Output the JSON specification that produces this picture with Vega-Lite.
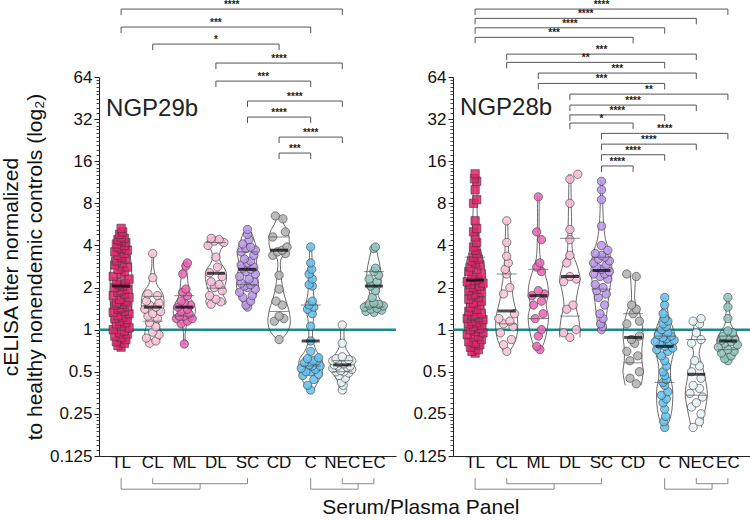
{
"$schema":"https://vega.github.io/schema/vega-lite/v6.json",
"padding":{"left":0,"top":0,"right":0,"bottom":2},
"config":{"font":"Liberation Sans","view":{"stroke":null},"axis":{"grid":false,"domainColor":"#222","tickColor":"#222","labelColor":"#111","labelFont":"Liberation Sans","labelFontSize":17,"titleFont":"Liberation Sans"}},
"title":{"text":"Serum/Plasma Panel","orient":"bottom","anchor":"middle","fontSize":21,"fontWeight":"normal","color":"#111","offset":7,"dx":45},
"spacing":5,
"datasets":{
"minor":[{"v":1}],
"pts":[
{"p":"L","g":"TL","v":0.75,"j":0},{"p":"L","g":"TL","v":0.77,"j":-0.1},{"p":"L","g":"TL","v":0.8,"j":0.1},{"p":"L","g":"TL","v":0.82,"j":-0.15},{"p":"L","g":"TL","v":0.85,"j":0.15},{"p":"L","g":"TL","v":0.88,"j":0},{"p":"L","g":"TL","v":0.9,"j":-0.2},{"p":"L","g":"TL","v":0.93,"j":0.2},{"p":"L","g":"TL","v":0.95,"j":-0.05},{"p":"L","g":"TL","v":0.98,"j":0.1},
{"p":"L","g":"TL","v":1.0,"j":-0.25},{"p":"L","g":"TL","v":1.03,"j":0.25},{"p":"L","g":"TL","v":1.06,"j":0},{"p":"L","g":"TL","v":1.1,"j":-0.15},{"p":"L","g":"TL","v":1.12,"j":0.15},{"p":"L","g":"TL","v":1.15,"j":-0.05},{"p":"L","g":"TL","v":1.18,"j":0.2},{"p":"L","g":"TL","v":1.2,"j":-0.2},{"p":"L","g":"TL","v":1.23,"j":0.05},{"p":"L","g":"TL","v":1.26,"j":-0.1},
{"p":"L","g":"TL","v":1.3,"j":0.25},{"p":"L","g":"TL","v":1.33,"j":-0.25},{"p":"L","g":"TL","v":1.36,"j":0.1},{"p":"L","g":"TL","v":1.4,"j":-0.1},{"p":"L","g":"TL","v":1.43,"j":0},{"p":"L","g":"TL","v":1.46,"j":0.2},{"p":"L","g":"TL","v":1.5,"j":-0.2},{"p":"L","g":"TL","v":1.52,"j":0.05},{"p":"L","g":"TL","v":1.55,"j":-0.15},{"p":"L","g":"TL","v":1.6,"j":0.15},
{"p":"L","g":"TL","v":1.65,"j":-0.05},{"p":"L","g":"TL","v":1.7,"j":0.25},{"p":"L","g":"TL","v":1.75,"j":-0.25},{"p":"L","g":"TL","v":1.8,"j":0.1},{"p":"L","g":"TL","v":1.85,"j":-0.1},{"p":"L","g":"TL","v":1.9,"j":0},{"p":"L","g":"TL","v":1.95,"j":0.2},{"p":"L","g":"TL","v":2.0,"j":-0.2},{"p":"L","g":"TL","v":2.05,"j":0.05},{"p":"L","g":"TL","v":2.1,"j":-0.05},
{"p":"L","g":"TL","v":2.15,"j":0.15},{"p":"L","g":"TL","v":2.2,"j":-0.15},{"p":"L","g":"TL","v":2.3,"j":0.25},{"p":"L","g":"TL","v":2.4,"j":-0.25},{"p":"L","g":"TL","v":2.5,"j":0},{"p":"L","g":"TL","v":2.6,"j":0.1},{"p":"L","g":"TL","v":2.7,"j":-0.1},{"p":"L","g":"TL","v":2.8,"j":0.2},{"p":"L","g":"TL","v":2.9,"j":-0.2},{"p":"L","g":"TL","v":3.0,"j":0.05},
{"p":"L","g":"TL","v":3.1,"j":-0.15},{"p":"L","g":"TL","v":3.2,"j":0.15},{"p":"L","g":"TL","v":3.3,"j":0},{"p":"L","g":"TL","v":3.4,"j":-0.1},{"p":"L","g":"TL","v":3.5,"j":0.1},{"p":"L","g":"TL","v":3.6,"j":-0.2},{"p":"L","g":"TL","v":3.7,"j":0.2},{"p":"L","g":"TL","v":3.8,"j":0},{"p":"L","g":"TL","v":3.9,"j":-0.1},{"p":"L","g":"TL","v":4.0,"j":0.1},
{"p":"L","g":"TL","v":4.1,"j":-0.15},{"p":"L","g":"TL","v":4.2,"j":0.15},{"p":"L","g":"TL","v":4.3,"j":0},{"p":"L","g":"TL","v":4.4,"j":-0.1},{"p":"L","g":"TL","v":4.5,"j":0.1},{"p":"L","g":"TL","v":4.6,"j":0},{"p":"L","g":"TL","v":4.8,"j":-0.05},{"p":"L","g":"TL","v":5.0,"j":0.05},{"p":"L","g":"TL","v":5.3,"j":0},
{"p":"L","g":"CL","v":0.8,"j":-0.1},{"p":"L","g":"CL","v":0.83,"j":0.1},{"p":"L","g":"CL","v":0.87,"j":-0.2},{"p":"L","g":"CL","v":0.92,"j":0.2},{"p":"L","g":"CL","v":0.96,"j":0},{"p":"L","g":"CL","v":1.05,"j":0.1},{"p":"L","g":"CL","v":1.12,"j":-0.1},{"p":"L","g":"CL","v":1.2,"j":0.15},{"p":"L","g":"CL","v":1.25,"j":-0.15},{"p":"L","g":"CL","v":1.3,"j":0},{"p":"L","g":"CL","v":1.35,"j":0.25},{"p":"L","g":"CL","v":1.4,"j":-0.25},{"p":"L","g":"CL","v":1.45,"j":0.1},{"p":"L","g":"CL","v":1.5,"j":-0.1},{"p":"L","g":"CL","v":1.55,"j":0.2},{"p":"L","g":"CL","v":1.6,"j":-0.2},{"p":"L","g":"CL","v":1.75,"j":0.15},{"p":"L","g":"CL","v":1.8,"j":-0.15},{"p":"L","g":"CL","v":2.35,"j":0},{"p":"L","g":"CL","v":3.5,"j":0},
{"p":"L","g":"ML","v":0.79,"j":0},{"p":"L","g":"ML","v":1.1,"j":-0.1},{"p":"L","g":"ML","v":1.15,"j":0.1},{"p":"L","g":"ML","v":1.2,"j":-0.25},{"p":"L","g":"ML","v":1.2,"j":0.25},{"p":"L","g":"ML","v":1.25,"j":0},{"p":"L","g":"ML","v":1.25,"j":-0.15},{"p":"L","g":"ML","v":1.3,"j":0.15},{"p":"L","g":"ML","v":1.35,"j":-0.1},{"p":"L","g":"ML","v":1.4,"j":0.1},{"p":"L","g":"ML","v":1.45,"j":-0.2},{"p":"L","g":"ML","v":1.5,"j":0.2},{"p":"L","g":"ML","v":1.55,"j":0},{"p":"L","g":"ML","v":1.6,"j":-0.1},{"p":"L","g":"ML","v":1.75,"j":0.1},{"p":"L","g":"ML","v":1.85,"j":-0.05},{"p":"L","g":"ML","v":1.95,"j":0.05},{"p":"L","g":"ML","v":2.5,"j":-0.05},{"p":"L","g":"ML","v":2.85,"j":0.05},{"p":"L","g":"ML","v":3.0,"j":0.1},
{"p":"L","g":"DL","v":1.52,"j":-0.15},{"p":"L","g":"DL","v":1.58,"j":0.15},{"p":"L","g":"DL","v":1.65,"j":0},{"p":"L","g":"DL","v":1.75,"j":-0.2},{"p":"L","g":"DL","v":1.9,"j":0.2},{"p":"L","g":"DL","v":2.0,"j":-0.05},{"p":"L","g":"DL","v":2.1,"j":0.1},{"p":"L","g":"DL","v":2.2,"j":-0.15},{"p":"L","g":"DL","v":2.4,"j":0.2},{"p":"L","g":"DL","v":2.55,"j":-0.2},{"p":"L","g":"DL","v":2.8,"j":0.05},{"p":"L","g":"DL","v":3.3,"j":0},{"p":"L","g":"DL","v":4.0,"j":-0.25},{"p":"L","g":"DL","v":4.2,"j":0.25},{"p":"L","g":"DL","v":4.3,"j":-0.05},{"p":"L","g":"DL","v":4.4,"j":0.1},{"p":"L","g":"DL","v":4.5,"j":-0.15},
{"p":"L","g":"SC","v":1.45,"j":0},{"p":"L","g":"SC","v":1.5,"j":-0.05},{"p":"L","g":"SC","v":1.6,"j":0.1},{"p":"L","g":"SC","v":1.7,"j":-0.15},{"p":"L","g":"SC","v":1.75,"j":0.15},{"p":"L","g":"SC","v":1.85,"j":-0.25},{"p":"L","g":"SC","v":1.95,"j":0.25},{"p":"L","g":"SC","v":2.0,"j":0},{"p":"L","g":"SC","v":2.05,"j":-0.1},{"p":"L","g":"SC","v":2.1,"j":0.1},{"p":"L","g":"SC","v":2.15,"j":-0.2},{"p":"L","g":"SC","v":2.2,"j":0.2},{"p":"L","g":"SC","v":2.3,"j":0.05},{"p":"L","g":"SC","v":2.4,"j":-0.25},{"p":"L","g":"SC","v":2.5,"j":0.25},{"p":"L","g":"SC","v":2.6,"j":-0.05},{"p":"L","g":"SC","v":2.7,"j":0.1},{"p":"L","g":"SC","v":2.75,"j":-0.15},{"p":"L","g":"SC","v":2.8,"j":0.2},{"p":"L","g":"SC","v":2.9,"j":-0.2},{"p":"L","g":"SC","v":3.0,"j":0},{"p":"L","g":"SC","v":3.1,"j":0.1},{"p":"L","g":"SC","v":3.2,"j":-0.1},{"p":"L","g":"SC","v":3.4,"j":0.2},{"p":"L","g":"SC","v":3.6,"j":-0.2},{"p":"L","g":"SC","v":3.7,"j":0.25},{"p":"L","g":"SC","v":3.8,"j":-0.05},{"p":"L","g":"SC","v":3.9,"j":0.1},{"p":"L","g":"SC","v":4.1,"j":-0.15},{"p":"L","g":"SC","v":4.4,"j":0.05},{"p":"L","g":"SC","v":4.8,"j":0},{"p":"L","g":"SC","v":5.2,"j":0},
{"p":"L","g":"CD","v":0.85,"j":0},{"p":"L","g":"CD","v":1.15,"j":-0.15},{"p":"L","g":"CD","v":1.2,"j":0.15},{"p":"L","g":"CD","v":1.25,"j":0},{"p":"L","g":"CD","v":1.5,"j":0.1},{"p":"L","g":"CD","v":1.6,"j":-0.1},{"p":"L","g":"CD","v":1.95,"j":0},{"p":"L","g":"CD","v":2.45,"j":0},{"p":"L","g":"CD","v":3.4,"j":-0.2},{"p":"L","g":"CD","v":3.5,"j":0.2},{"p":"L","g":"CD","v":3.6,"j":-0.05},{"p":"L","g":"CD","v":3.7,"j":0.1},{"p":"L","g":"CD","v":3.9,"j":0.25},{"p":"L","g":"CD","v":4.6,"j":-0.2},{"p":"L","g":"CD","v":5.0,"j":0.2},{"p":"L","g":"CD","v":6.2,"j":0.12},{"p":"L","g":"CD","v":6.5,"j":-0.12},
{"p":"L","g":"C","v":0.37,"j":0},{"p":"L","g":"C","v":0.4,"j":-0.1},{"p":"L","g":"C","v":0.44,"j":0.1},{"p":"L","g":"C","v":0.47,"j":-0.25},{"p":"L","g":"C","v":0.48,"j":0.25},{"p":"L","g":"C","v":0.5,"j":0},{"p":"L","g":"C","v":0.5,"j":-0.15},{"p":"L","g":"C","v":0.52,"j":0.15},{"p":"L","g":"C","v":0.53,"j":-0.3},{"p":"L","g":"C","v":0.55,"j":0.3},{"p":"L","g":"C","v":0.55,"j":0.05},{"p":"L","g":"C","v":0.56,"j":-0.05},{"p":"L","g":"C","v":0.58,"j":-0.2},{"p":"L","g":"C","v":0.6,"j":0.2},{"p":"L","g":"C","v":0.6,"j":0.08},{"p":"L","g":"C","v":0.62,"j":-0.1},{"p":"L","g":"C","v":0.63,"j":0.25},{"p":"L","g":"C","v":0.7,"j":0},{"p":"L","g":"C","v":0.83,"j":0},{"p":"L","g":"C","v":1.06,"j":0},{"p":"L","g":"C","v":1.3,"j":0.05},{"p":"L","g":"C","v":1.4,"j":-0.1},{"p":"L","g":"C","v":1.45,"j":0.1},{"p":"L","g":"C","v":1.5,"j":-0.05},{"p":"L","g":"C","v":1.6,"j":0.05},{"p":"L","g":"C","v":2.05,"j":0.05},{"p":"L","g":"C","v":2.1,"j":-0.05},{"p":"L","g":"C","v":2.3,"j":0.05},{"p":"L","g":"C","v":2.5,"j":-0.05},{"p":"L","g":"C","v":2.7,"j":0.03},{"p":"L","g":"C","v":3.0,"j":0},{"p":"L","g":"C","v":3.9,"j":0},
{"p":"L","g":"NEC","v":0.37,"j":0},{"p":"L","g":"NEC","v":0.4,"j":0.03},{"p":"L","g":"NEC","v":0.42,"j":-0.03},{"p":"L","g":"NEC","v":0.45,"j":0.1},{"p":"L","g":"NEC","v":0.47,"j":-0.1},{"p":"L","g":"NEC","v":0.49,"j":0.2},{"p":"L","g":"NEC","v":0.5,"j":-0.2},{"p":"L","g":"NEC","v":0.5,"j":0.05},{"p":"L","g":"NEC","v":0.51,"j":-0.05},{"p":"L","g":"NEC","v":0.52,"j":0.3},{"p":"L","g":"NEC","v":0.53,"j":-0.3},{"p":"L","g":"NEC","v":0.54,"j":0.15},{"p":"L","g":"NEC","v":0.55,"j":-0.15},{"p":"L","g":"NEC","v":0.55,"j":0.25},{"p":"L","g":"NEC","v":0.56,"j":-0.25},{"p":"L","g":"NEC","v":0.57,"j":0.05},{"p":"L","g":"NEC","v":0.58,"j":-0.1},{"p":"L","g":"NEC","v":0.59,"j":0.1},{"p":"L","g":"NEC","v":0.6,"j":0.3},{"p":"L","g":"NEC","v":0.6,"j":-0.3},{"p":"L","g":"NEC","v":0.61,"j":0.2},{"p":"L","g":"NEC","v":0.62,"j":-0.2},{"p":"L","g":"NEC","v":0.64,"j":0},{"p":"L","g":"NEC","v":0.8,"j":0},{"p":"L","g":"NEC","v":1.08,"j":0},
{"p":"L","g":"EC","v":1.33,"j":0},{"p":"L","g":"EC","v":1.35,"j":-0.25},{"p":"L","g":"EC","v":1.38,"j":0.25},{"p":"L","g":"EC","v":1.4,"j":-0.1},{"p":"L","g":"EC","v":1.42,"j":0.1},{"p":"L","g":"EC","v":1.45,"j":-0.3},{"p":"L","g":"EC","v":1.48,"j":0.3},{"p":"L","g":"EC","v":1.5,"j":-0.15},{"p":"L","g":"EC","v":1.52,"j":0.15},{"p":"L","g":"EC","v":1.55,"j":0},{"p":"L","g":"EC","v":1.7,"j":-0.05},{"p":"L","g":"EC","v":1.9,"j":0.05},{"p":"L","g":"EC","v":2.05,"j":-0.1},{"p":"L","g":"EC","v":2.2,"j":0.1},{"p":"L","g":"EC","v":2.3,"j":-0.15},{"p":"L","g":"EC","v":2.45,"j":0.15},{"p":"L","g":"EC","v":2.6,"j":0},{"p":"L","g":"EC","v":2.75,"j":0.05},{"p":"L","g":"EC","v":3.8,"j":0},{"p":"L","g":"EC","v":3.9,"j":0.05},
{"p":"R","g":"TL","v":0.68,"j":0},{"p":"R","g":"TL","v":0.7,"j":-0.1},{"p":"R","g":"TL","v":0.72,"j":0.1},{"p":"R","g":"TL","v":0.75,"j":-0.15},{"p":"R","g":"TL","v":0.78,"j":0.15},{"p":"R","g":"TL","v":0.8,"j":0},{"p":"R","g":"TL","v":0.82,"j":-0.2},{"p":"R","g":"TL","v":0.85,"j":0.2},{"p":"R","g":"TL","v":0.88,"j":-0.05},{"p":"R","g":"TL","v":0.9,"j":0.1},
{"p":"R","g":"TL","v":0.92,"j":-0.25},{"p":"R","g":"TL","v":0.95,"j":0.25},{"p":"R","g":"TL","v":0.97,"j":0},{"p":"R","g":"TL","v":1.0,"j":-0.15},{"p":"R","g":"TL","v":1.02,"j":0.15},{"p":"R","g":"TL","v":1.05,"j":-0.05},{"p":"R","g":"TL","v":1.08,"j":0.2},{"p":"R","g":"TL","v":1.1,"j":-0.2},{"p":"R","g":"TL","v":1.12,"j":0.05},{"p":"R","g":"TL","v":1.15,"j":-0.1},
{"p":"R","g":"TL","v":1.18,"j":0.25},{"p":"R","g":"TL","v":1.2,"j":-0.25},{"p":"R","g":"TL","v":1.22,"j":0.1},{"p":"R","g":"TL","v":1.25,"j":-0.1},{"p":"R","g":"TL","v":1.28,"j":0},{"p":"R","g":"TL","v":1.3,"j":0.2},{"p":"R","g":"TL","v":1.35,"j":-0.2},{"p":"R","g":"TL","v":1.4,"j":0.05},{"p":"R","g":"TL","v":1.45,"j":-0.15},{"p":"R","g":"TL","v":1.5,"j":0.15},
{"p":"R","g":"TL","v":1.55,"j":-0.05},{"p":"R","g":"TL","v":1.6,"j":0.2},{"p":"R","g":"TL","v":1.65,"j":-0.2},{"p":"R","g":"TL","v":1.7,"j":0.1},{"p":"R","g":"TL","v":1.75,"j":-0.1},{"p":"R","g":"TL","v":1.8,"j":0},{"p":"R","g":"TL","v":1.85,"j":0.2},{"p":"R","g":"TL","v":1.9,"j":-0.2},{"p":"R","g":"TL","v":1.95,"j":0.05},{"p":"R","g":"TL","v":2.0,"j":-0.05},
{"p":"R","g":"TL","v":2.05,"j":0.15},{"p":"R","g":"TL","v":2.1,"j":-0.15},{"p":"R","g":"TL","v":2.15,"j":0.25},{"p":"R","g":"TL","v":2.2,"j":-0.25},{"p":"R","g":"TL","v":2.25,"j":0},{"p":"R","g":"TL","v":2.3,"j":0.1},{"p":"R","g":"TL","v":2.4,"j":-0.1},{"p":"R","g":"TL","v":2.5,"j":0.2},{"p":"R","g":"TL","v":2.6,"j":-0.2},{"p":"R","g":"TL","v":2.7,"j":0.05},
{"p":"R","g":"TL","v":2.8,"j":-0.15},{"p":"R","g":"TL","v":2.9,"j":0.15},{"p":"R","g":"TL","v":3.0,"j":0},{"p":"R","g":"TL","v":3.1,"j":-0.1},{"p":"R","g":"TL","v":3.2,"j":0.1},{"p":"R","g":"TL","v":3.3,"j":-0.05},{"p":"R","g":"TL","v":3.5,"j":0.05},{"p":"R","g":"TL","v":3.7,"j":0},{"p":"R","g":"TL","v":3.9,"j":-0.05},{"p":"R","g":"TL","v":4.2,"j":0.05},
{"p":"R","g":"TL","v":4.6,"j":0},{"p":"R","g":"TL","v":5.0,"j":-0.05},{"p":"R","g":"TL","v":5.3,"j":0.05},{"p":"R","g":"TL","v":6.0,"j":0},{"p":"R","g":"TL","v":8.0,"j":-0.05},{"p":"R","g":"TL","v":8.5,"j":0.05},{"p":"R","g":"TL","v":10.0,"j":0},{"p":"R","g":"TL","v":11.5,"j":0.05},{"p":"R","g":"TL","v":12.0,"j":-0.02},{"p":"R","g":"TL","v":13.0,"j":0},
{"p":"R","g":"CL","v":0.7,"j":0},{"p":"R","g":"CL","v":0.78,"j":-0.1},{"p":"R","g":"CL","v":0.85,"j":0.15},{"p":"R","g":"CL","v":0.95,"j":-0.2},{"p":"R","g":"CL","v":1.05,"j":0.2},{"p":"R","g":"CL","v":1.1,"j":-0.1},{"p":"R","g":"CL","v":1.15,"j":0.1},{"p":"R","g":"CL","v":1.2,"j":-0.25},{"p":"R","g":"CL","v":1.3,"j":0.25},{"p":"R","g":"CL","v":1.8,"j":-0.1},{"p":"R","g":"CL","v":2.0,"j":0.1},{"p":"R","g":"CL","v":2.5,"j":0},{"p":"R","g":"CL","v":2.7,"j":-0.05},{"p":"R","g":"CL","v":3.0,"j":0.05},{"p":"R","g":"CL","v":3.35,"j":0},{"p":"R","g":"CL","v":4.2,"j":0},{"p":"R","g":"CL","v":6.0,"j":0},
{"p":"R","g":"ML","v":0.72,"j":0.05},{"p":"R","g":"ML","v":0.76,"j":-0.05},{"p":"R","g":"ML","v":0.9,"j":0},{"p":"R","g":"ML","v":1.0,"j":0.1},{"p":"R","g":"ML","v":1.2,"j":-0.1},{"p":"R","g":"ML","v":1.3,"j":0.15},{"p":"R","g":"ML","v":1.5,"j":-0.15},{"p":"R","g":"ML","v":1.6,"j":0.1},{"p":"R","g":"ML","v":1.75,"j":-0.2},{"p":"R","g":"ML","v":1.8,"j":0.2},{"p":"R","g":"ML","v":1.9,"j":0},{"p":"R","g":"ML","v":2.6,"j":0.1},{"p":"R","g":"ML","v":2.8,"j":-0.05},{"p":"R","g":"ML","v":3.0,"j":0.05},{"p":"R","g":"ML","v":4.4,"j":0.1},{"p":"R","g":"ML","v":5.0,"j":-0.05},{"p":"R","g":"ML","v":8.9,"j":0},
{"p":"R","g":"DL","v":0.88,"j":0},{"p":"R","g":"DL","v":0.95,"j":-0.2},{"p":"R","g":"DL","v":1.0,"j":0.2},{"p":"R","g":"DL","v":1.4,"j":-0.1},{"p":"R","g":"DL","v":1.5,"j":0.1},{"p":"R","g":"DL","v":2.2,"j":-0.2},{"p":"R","g":"DL","v":2.3,"j":0.2},{"p":"R","g":"DL","v":2.4,"j":0},{"p":"R","g":"DL","v":3.0,"j":-0.1},{"p":"R","g":"DL","v":3.4,"j":0},{"p":"R","g":"DL","v":4.4,"j":0},{"p":"R","g":"DL","v":5.2,"j":0},{"p":"R","g":"DL","v":8.0,"j":0},{"p":"R","g":"DL","v":11.9,"j":0},{"p":"R","g":"DL","v":12.9,"j":0.25},
{"p":"R","g":"SC","v":1.0,"j":0},{"p":"R","g":"SC","v":1.05,"j":0.03},{"p":"R","g":"SC","v":1.1,"j":-0.03},{"p":"R","g":"SC","v":1.2,"j":0.05},{"p":"R","g":"SC","v":1.3,"j":-0.05},{"p":"R","g":"SC","v":1.5,"j":0.1},{"p":"R","g":"SC","v":1.7,"j":-0.1},{"p":"R","g":"SC","v":1.8,"j":0.15},{"p":"R","g":"SC","v":1.9,"j":-0.15},{"p":"R","g":"SC","v":2.0,"j":0.05},{"p":"R","g":"SC","v":2.1,"j":-0.2},{"p":"R","g":"SC","v":2.3,"j":0.2},{"p":"R","g":"SC","v":2.4,"j":-0.05},{"p":"R","g":"SC","v":2.5,"j":0.1},{"p":"R","g":"SC","v":2.5,"j":-0.25},{"p":"R","g":"SC","v":2.6,"j":0.25},{"p":"R","g":"SC","v":2.7,"j":0},{"p":"R","g":"SC","v":2.8,"j":-0.15},{"p":"R","g":"SC","v":2.9,"j":0.15},{"p":"R","g":"SC","v":3.0,"j":-0.25},{"p":"R","g":"SC","v":3.1,"j":0.25},{"p":"R","g":"SC","v":3.2,"j":-0.1},{"p":"R","g":"SC","v":3.3,"j":0.1},{"p":"R","g":"SC","v":3.4,"j":0},{"p":"R","g":"SC","v":3.5,"j":-0.2},{"p":"R","g":"SC","v":3.7,"j":0.2},{"p":"R","g":"SC","v":4.0,"j":0},{"p":"R","g":"SC","v":5.5,"j":0},{"p":"R","g":"SC","v":8.5,"j":0},{"p":"R","g":"SC","v":10,"j":0},{"p":"R","g":"SC","v":11.5,"j":0},
{"p":"R","g":"CD","v":0.41,"j":0.1},{"p":"R","g":"CD","v":0.45,"j":-0.1},{"p":"R","g":"CD","v":0.5,"j":0.2},{"p":"R","g":"CD","v":0.6,"j":-0.1},{"p":"R","g":"CD","v":0.65,"j":0.15},{"p":"R","g":"CD","v":0.7,"j":-0.2},{"p":"R","g":"CD","v":0.8,"j":0.05},{"p":"R","g":"CD","v":0.85,"j":-0.05},{"p":"R","g":"CD","v":0.9,"j":0.2},{"p":"R","g":"CD","v":1.1,"j":-0.2},{"p":"R","g":"CD","v":1.15,"j":0.2},{"p":"R","g":"CD","v":1.3,"j":0},{"p":"R","g":"CD","v":1.4,"j":0.1},{"p":"R","g":"CD","v":1.5,"j":-0.05},{"p":"R","g":"CD","v":2.4,"j":0.1},{"p":"R","g":"CD","v":2.5,"j":-0.2},
{"p":"R","g":"C","v":0.2,"j":0},{"p":"R","g":"C","v":0.22,"j":-0.03},{"p":"R","g":"C","v":0.24,"j":0.03},{"p":"R","g":"C","v":0.27,"j":0},{"p":"R","g":"C","v":0.3,"j":-0.05},{"p":"R","g":"C","v":0.32,"j":0.05},{"p":"R","g":"C","v":0.34,"j":-0.1},{"p":"R","g":"C","v":0.36,"j":0.1},{"p":"R","g":"C","v":0.4,"j":0},{"p":"R","g":"C","v":0.42,"j":-0.05},{"p":"R","g":"C","v":0.44,"j":0.05},{"p":"R","g":"C","v":0.47,"j":0},{"p":"R","g":"C","v":0.5,"j":-0.05},{"p":"R","g":"C","v":0.55,"j":0.05},{"p":"R","g":"C","v":0.6,"j":0},{"p":"R","g":"C","v":0.65,"j":-0.1},{"p":"R","g":"C","v":0.7,"j":0.1},{"p":"R","g":"C","v":0.72,"j":-0.25},{"p":"R","g":"C","v":0.74,"j":0.25},{"p":"R","g":"C","v":0.76,"j":0},{"p":"R","g":"C","v":0.78,"j":-0.15},{"p":"R","g":"C","v":0.8,"j":0.15},{"p":"R","g":"C","v":0.82,"j":-0.3},{"p":"R","g":"C","v":0.84,"j":0.3},{"p":"R","g":"C","v":0.86,"j":0.05},{"p":"R","g":"C","v":0.88,"j":-0.05},{"p":"R","g":"C","v":0.9,"j":0.2},{"p":"R","g":"C","v":0.92,"j":-0.2},{"p":"R","g":"C","v":0.95,"j":0.1},{"p":"R","g":"C","v":1.0,"j":-0.1},{"p":"R","g":"C","v":1.05,"j":0.05},{"p":"R","g":"C","v":1.1,"j":-0.05},{"p":"R","g":"C","v":1.15,"j":0.1},{"p":"R","g":"C","v":1.2,"j":0},{"p":"R","g":"C","v":1.3,"j":-0.05},{"p":"R","g":"C","v":1.5,"j":0},{"p":"R","g":"C","v":1.7,"j":0},
{"p":"R","g":"NEC","v":0.2,"j":-0.1},{"p":"R","g":"NEC","v":0.22,"j":0.1},{"p":"R","g":"NEC","v":0.25,"j":0.15},{"p":"R","g":"NEC","v":0.28,"j":-0.15},{"p":"R","g":"NEC","v":0.3,"j":0},{"p":"R","g":"NEC","v":0.33,"j":0.2},{"p":"R","g":"NEC","v":0.35,"j":-0.2},{"p":"R","g":"NEC","v":0.38,"j":0.1},{"p":"R","g":"NEC","v":0.4,"j":-0.1},{"p":"R","g":"NEC","v":0.45,"j":0.15},{"p":"R","g":"NEC","v":0.5,"j":-0.15},{"p":"R","g":"NEC","v":0.55,"j":0.1},{"p":"R","g":"NEC","v":0.6,"j":-0.05},{"p":"R","g":"NEC","v":0.8,"j":-0.15},{"p":"R","g":"NEC","v":0.85,"j":0.15},{"p":"R","g":"NEC","v":0.95,"j":0},{"p":"R","g":"NEC","v":1.1,"j":0.1},{"p":"R","g":"NEC","v":1.15,"j":-0.1},{"p":"R","g":"NEC","v":1.2,"j":0.15},
{"p":"R","g":"EC","v":0.6,"j":0},{"p":"R","g":"EC","v":0.62,"j":-0.1},{"p":"R","g":"EC","v":0.65,"j":0.1},{"p":"R","g":"EC","v":0.68,"j":-0.2},{"p":"R","g":"EC","v":0.7,"j":0.2},{"p":"R","g":"EC","v":0.72,"j":0},{"p":"R","g":"EC","v":0.75,"j":-0.3},{"p":"R","g":"EC","v":0.78,"j":0.3},{"p":"R","g":"EC","v":0.8,"j":-0.1},{"p":"R","g":"EC","v":0.82,"j":0.1},{"p":"R","g":"EC","v":0.84,"j":-0.2},{"p":"R","g":"EC","v":0.86,"j":0.2},{"p":"R","g":"EC","v":0.88,"j":0},{"p":"R","g":"EC","v":0.9,"j":-0.15},{"p":"R","g":"EC","v":0.95,"j":0.15},{"p":"R","g":"EC","v":0.98,"j":0},{"p":"R","g":"EC","v":1.2,"j":0},{"p":"R","g":"EC","v":1.45,"j":0},{"p":"R","g":"EC","v":1.7,"j":0}
],
"vio":[
{"p":"L","g":"TL","v":0.75,"r":0.09,"l":-0.09},{"p":"L","g":"TL","v":0.86,"r":0.16,"l":-0.16},{"p":"L","g":"TL","v":1.0,"r":0.25,"l":-0.25},{"p":"L","g":"TL","v":1.3,"r":0.32,"l":-0.32},{"p":"L","g":"TL","v":1.65,"r":0.35,"l":-0.35},{"p":"L","g":"TL","v":2.1,"r":0.35,"l":-0.35},{"p":"L","g":"TL","v":2.9,"r":0.32,"l":-0.32},{"p":"L","g":"TL","v":3.9,"r":0.25,"l":-0.25},{"p":"L","g":"TL","v":4.8,"r":0.16,"l":-0.16},{"p":"L","g":"TL","v":5.3,"r":0.06,"l":-0.06},
{"p":"L","g":"CL","v":0.78,"r":0.06,"l":-0.06},{"p":"L","g":"CL","v":0.82,"r":0.19,"l":-0.19},{"p":"L","g":"CL","v":0.95,"r":0.25,"l":-0.25},{"p":"L","g":"CL","v":1.18,"r":0.16,"l":-0.16},{"p":"L","g":"CL","v":1.3,"r":0.25,"l":-0.25},{"p":"L","g":"CL","v":1.45,"r":0.35,"l":-0.35},{"p":"L","g":"CL","v":1.8,"r":0.32,"l":-0.32},{"p":"L","g":"CL","v":2.1,"r":0.13,"l":-0.13},{"p":"L","g":"CL","v":2.35,"r":0.09,"l":-0.09},{"p":"L","g":"CL","v":2.8,"r":0.03,"l":-0.03},{"p":"L","g":"CL","v":3.5,"r":0.03,"l":-0.03},
{"p":"L","g":"ML","v":0.78,"r":0.03,"l":-0.03},{"p":"L","g":"ML","v":0.95,"r":0.03,"l":-0.03},{"p":"L","g":"ML","v":1.1,"r":0.09,"l":-0.09},{"p":"L","g":"ML","v":1.2,"r":0.28,"l":-0.28},{"p":"L","g":"ML","v":1.35,"r":0.35,"l":-0.35},{"p":"L","g":"ML","v":1.5,"r":0.32,"l":-0.32},{"p":"L","g":"ML","v":1.7,"r":0.19,"l":-0.19},{"p":"L","g":"ML","v":2.0,"r":0.13,"l":-0.13},{"p":"L","g":"ML","v":2.5,"r":0.09,"l":-0.09},{"p":"L","g":"ML","v":3.0,"r":0.03,"l":-0.03},
{"p":"L","g":"DL","v":1.5,"r":0.28,"l":-0.28},{"p":"L","g":"DL","v":1.6,"r":0.32,"l":-0.32},{"p":"L","g":"DL","v":1.8,"r":0.22,"l":-0.22},{"p":"L","g":"DL","v":1.95,"r":0.25,"l":-0.25},{"p":"L","g":"DL","v":2.2,"r":0.32,"l":-0.32},{"p":"L","g":"DL","v":2.6,"r":0.32,"l":-0.32},{"p":"L","g":"DL","v":3.1,"r":0.13,"l":-0.13},{"p":"L","g":"DL","v":3.6,"r":0.13,"l":-0.13},{"p":"L","g":"DL","v":4.2,"r":0.28,"l":-0.28},{"p":"L","g":"DL","v":4.6,"r":0.19,"l":-0.19},
{"p":"L","g":"SC","v":1.45,"r":0.09,"l":-0.09},{"p":"L","g":"SC","v":1.6,"r":0.19,"l":-0.19},{"p":"L","g":"SC","v":1.8,"r":0.28,"l":-0.28},{"p":"L","g":"SC","v":2.05,"r":0.35,"l":-0.35},{"p":"L","g":"SC","v":2.4,"r":0.32,"l":-0.32},{"p":"L","g":"SC","v":3.0,"r":0.28,"l":-0.28},{"p":"L","g":"SC","v":3.6,"r":0.32,"l":-0.32},{"p":"L","g":"SC","v":4.3,"r":0.22,"l":-0.22},{"p":"L","g":"SC","v":4.9,"r":0.13,"l":-0.13},{"p":"L","g":"SC","v":5.2,"r":0.03,"l":-0.03},
{"p":"L","g":"CD","v":0.85,"r":0.06,"l":-0.06},{"p":"L","g":"CD","v":0.95,"r":0.25,"l":-0.25},{"p":"L","g":"CD","v":1.1,"r":0.35,"l":-0.35},{"p":"L","g":"CD","v":1.35,"r":0.32,"l":-0.32},{"p":"L","g":"CD","v":1.6,"r":0.22,"l":-0.22},{"p":"L","g":"CD","v":1.9,"r":0.13,"l":-0.13},{"p":"L","g":"CD","v":2.5,"r":0.06,"l":-0.06},{"p":"L","g":"CD","v":3.2,"r":0.06,"l":-0.06},{"p":"L","g":"CD","v":3.6,"r":0.25,"l":-0.25},{"p":"L","g":"CD","v":4.2,"r":0.32,"l":-0.32},{"p":"L","g":"CD","v":5.0,"r":0.28,"l":-0.28},{"p":"L","g":"CD","v":5.8,"r":0.13,"l":-0.13},{"p":"L","g":"CD","v":6.5,"r":0.06,"l":-0.06},
{"p":"L","g":"C","v":0.37,"r":0.09,"l":-0.09},{"p":"L","g":"C","v":0.42,"r":0.22,"l":-0.22},{"p":"L","g":"C","v":0.48,"r":0.35,"l":-0.35},{"p":"L","g":"C","v":0.55,"r":0.38,"l":-0.38},{"p":"L","g":"C","v":0.62,"r":0.35,"l":-0.35},{"p":"L","g":"C","v":0.7,"r":0.19,"l":-0.19},{"p":"L","g":"C","v":0.8,"r":0.09,"l":-0.09},{"p":"L","g":"C","v":0.9,"r":0.06,"l":-0.06},{"p":"L","g":"C","v":1.2,"r":0.09,"l":-0.09},{"p":"L","g":"C","v":1.45,"r":0.16,"l":-0.16},{"p":"L","g":"C","v":1.8,"r":0.09,"l":-0.09},{"p":"L","g":"C","v":2.5,"r":0.06,"l":-0.06},{"p":"L","g":"C","v":3.9,"r":0.03,"l":-0.03},
{"p":"L","g":"NEC","v":0.37,"r":0.09,"l":-0.09},{"p":"L","g":"NEC","v":0.42,"r":0.13,"l":-0.13},{"p":"L","g":"NEC","v":0.47,"r":0.25,"l":-0.25},{"p":"L","g":"NEC","v":0.52,"r":0.35,"l":-0.35},{"p":"L","g":"NEC","v":0.58,"r":0.35,"l":-0.35},{"p":"L","g":"NEC","v":0.64,"r":0.28,"l":-0.28},{"p":"L","g":"NEC","v":0.72,"r":0.13,"l":-0.13},{"p":"L","g":"NEC","v":0.85,"r":0.06,"l":-0.06},{"p":"L","g":"NEC","v":1.08,"r":0.06,"l":-0.06},
{"p":"L","g":"EC","v":1.33,"r":0.13,"l":-0.13},{"p":"L","g":"EC","v":1.38,"r":0.32,"l":-0.32},{"p":"L","g":"EC","v":1.5,"r":0.35,"l":-0.35},{"p":"L","g":"EC","v":1.65,"r":0.19,"l":-0.19},{"p":"L","g":"EC","v":1.8,"r":0.13,"l":-0.13},{"p":"L","g":"EC","v":2.1,"r":0.22,"l":-0.22},{"p":"L","g":"EC","v":2.6,"r":0.22,"l":-0.22},{"p":"L","g":"EC","v":3.1,"r":0.16,"l":-0.16},{"p":"L","g":"EC","v":3.9,"r":0.06,"l":-0.06},
{"p":"R","g":"TL","v":0.68,"r":0.09,"l":-0.09},{"p":"R","g":"TL","v":0.8,"r":0.22,"l":-0.22},{"p":"R","g":"TL","v":0.95,"r":0.32,"l":-0.32},{"p":"R","g":"TL","v":1.15,"r":0.35,"l":-0.35},{"p":"R","g":"TL","v":1.45,"r":0.28,"l":-0.28},{"p":"R","g":"TL","v":1.7,"r":0.25,"l":-0.25},{"p":"R","g":"TL","v":2.2,"r":0.32,"l":-0.32},{"p":"R","g":"TL","v":3.0,"r":0.28,"l":-0.28},{"p":"R","g":"TL","v":3.8,"r":0.16,"l":-0.16},{"p":"R","g":"TL","v":5,"r":0.09,"l":-0.09},{"p":"R","g":"TL","v":8,"r":0.06,"l":-0.06},{"p":"R","g":"TL","v":13,"r":0.06,"l":-0.06},
{"p":"R","g":"CL","v":0.7,"r":0.09,"l":-0.09},{"p":"R","g":"CL","v":0.78,"r":0.22,"l":-0.22},{"p":"R","g":"CL","v":0.9,"r":0.32,"l":-0.32},{"p":"R","g":"CL","v":1.1,"r":0.35,"l":-0.35},{"p":"R","g":"CL","v":1.3,"r":0.32,"l":-0.32},{"p":"R","g":"CL","v":1.6,"r":0.22,"l":-0.22},{"p":"R","g":"CL","v":2.0,"r":0.16,"l":-0.16},{"p":"R","g":"CL","v":2.6,"r":0.09,"l":-0.09},{"p":"R","g":"CL","v":3.5,"r":0.06,"l":-0.06},{"p":"R","g":"CL","v":6.0,"r":0.03,"l":-0.03},
{"p":"R","g":"ML","v":0.72,"r":0.09,"l":-0.09},{"p":"R","g":"ML","v":0.82,"r":0.19,"l":-0.19},{"p":"R","g":"ML","v":1.0,"r":0.28,"l":-0.28},{"p":"R","g":"ML","v":1.25,"r":0.32,"l":-0.32},{"p":"R","g":"ML","v":1.5,"r":0.25,"l":-0.25},{"p":"R","g":"ML","v":1.8,"r":0.32,"l":-0.32},{"p":"R","g":"ML","v":2.2,"r":0.28,"l":-0.28},{"p":"R","g":"ML","v":2.7,"r":0.16,"l":-0.16},{"p":"R","g":"ML","v":3.3,"r":0.06,"l":-0.06},{"p":"R","g":"ML","v":8.9,"r":0.03,"l":-0.03},
{"p":"R","g":"DL","v":0.88,"r":0.32,"l":-0.32},{"p":"R","g":"DL","v":1.0,"r":0.32,"l":-0.32},{"p":"R","g":"DL","v":1.2,"r":0.28,"l":-0.28},{"p":"R","g":"DL","v":1.5,"r":0.19,"l":-0.19},{"p":"R","g":"DL","v":1.9,"r":0.25,"l":-0.25},{"p":"R","g":"DL","v":2.3,"r":0.32,"l":-0.32},{"p":"R","g":"DL","v":2.9,"r":0.22,"l":-0.22},{"p":"R","g":"DL","v":3.5,"r":0.09,"l":-0.09},{"p":"R","g":"DL","v":5,"r":0.06,"l":-0.06},{"p":"R","g":"DL","v":13,"r":0.03,"l":-0.03},
{"p":"R","g":"SC","v":1.0,"r":0.06,"l":-0.06},{"p":"R","g":"SC","v":1.15,"r":0.13,"l":-0.13},{"p":"R","g":"SC","v":1.45,"r":0.19,"l":-0.19},{"p":"R","g":"SC","v":1.9,"r":0.25,"l":-0.25},{"p":"R","g":"SC","v":2.4,"r":0.32,"l":-0.32},{"p":"R","g":"SC","v":3.0,"r":0.32,"l":-0.32},{"p":"R","g":"SC","v":3.6,"r":0.25,"l":-0.25},{"p":"R","g":"SC","v":4.4,"r":0.13,"l":-0.13},{"p":"R","g":"SC","v":6,"r":0.06,"l":-0.06},{"p":"R","g":"SC","v":11.7,"r":0.03,"l":-0.03},
{"p":"R","g":"CD","v":0.4,"r":0.25,"l":-0.25},{"p":"R","g":"CD","v":0.5,"r":0.32,"l":-0.32},{"p":"R","g":"CD","v":0.6,"r":0.28,"l":-0.28},{"p":"R","g":"CD","v":0.75,"r":0.28,"l":-0.28},{"p":"R","g":"CD","v":0.9,"r":0.32,"l":-0.32},{"p":"R","g":"CD","v":1.1,"r":0.28,"l":-0.28},{"p":"R","g":"CD","v":1.35,"r":0.19,"l":-0.19},{"p":"R","g":"CD","v":1.6,"r":0.06,"l":-0.06},{"p":"R","g":"CD","v":2.0,"r":0.06,"l":-0.06},{"p":"R","g":"CD","v":2.5,"r":0.09,"l":-0.09},
{"p":"R","g":"C","v":0.2,"r":0.06,"l":-0.06},{"p":"R","g":"C","v":0.24,"r":0.19,"l":-0.19},{"p":"R","g":"C","v":0.3,"r":0.25,"l":-0.25},{"p":"R","g":"C","v":0.38,"r":0.25,"l":-0.25},{"p":"R","g":"C","v":0.45,"r":0.19,"l":-0.19},{"p":"R","g":"C","v":0.55,"r":0.19,"l":-0.19},{"p":"R","g":"C","v":0.68,"r":0.28,"l":-0.28},{"p":"R","g":"C","v":0.82,"r":0.35,"l":-0.35},{"p":"R","g":"C","v":1.0,"r":0.28,"l":-0.28},{"p":"R","g":"C","v":1.25,"r":0.13,"l":-0.13},{"p":"R","g":"C","v":1.7,"r":0.03,"l":-0.03},
{"p":"R","g":"NEC","v":0.2,"r":0.16,"l":-0.16},{"p":"R","g":"NEC","v":0.25,"r":0.25,"l":-0.25},{"p":"R","g":"NEC","v":0.3,"r":0.32,"l":-0.32},{"p":"R","g":"NEC","v":0.35,"r":0.35,"l":-0.35},{"p":"R","g":"NEC","v":0.45,"r":0.28,"l":-0.28},{"p":"R","g":"NEC","v":0.55,"r":0.19,"l":-0.19},{"p":"R","g":"NEC","v":0.68,"r":0.09,"l":-0.09},{"p":"R","g":"NEC","v":0.82,"r":0.16,"l":-0.16},{"p":"R","g":"NEC","v":1.0,"r":0.09,"l":-0.09},{"p":"R","g":"NEC","v":1.2,"r":0.06,"l":-0.06},
{"p":"R","g":"EC","v":0.6,"r":0.09,"l":-0.09},{"p":"R","g":"EC","v":0.65,"r":0.22,"l":-0.22},{"p":"R","g":"EC","v":0.75,"r":0.32,"l":-0.32},{"p":"R","g":"EC","v":0.85,"r":0.35,"l":-0.35},{"p":"R","g":"EC","v":0.95,"r":0.25,"l":-0.25},{"p":"R","g":"EC","v":1.1,"r":0.09,"l":-0.09},{"p":"R","g":"EC","v":1.3,"r":0.06,"l":-0.06},{"p":"R","g":"EC","v":1.7,"r":0.03,"l":-0.03}
],
"st":[
{"p":"L","g":"TL","v":2.05,"k":"m"},{"p":"L","g":"TL","v":1.47,"k":"q"},{"p":"L","g":"TL","v":3.0,"k":"q"},
{"p":"L","g":"CL","v":1.45,"k":"m"},{"p":"L","g":"CL","v":1.73,"k":"q"},{"p":"L","g":"CL","v":1.15,"k":"q"},
{"p":"L","g":"ML","v":1.45,"k":"m"},{"p":"L","g":"ML","v":1.25,"k":"q"},{"p":"L","g":"ML","v":1.75,"k":"q"},
{"p":"L","g":"DL","v":2.53,"k":"m"},{"p":"L","g":"DL","v":1.98,"k":"q"},{"p":"L","g":"DL","v":4.2,"k":"q"},
{"p":"L","g":"SC","v":2.7,"k":"m"},{"p":"L","g":"SC","v":2.1,"k":"q"},{"p":"L","g":"SC","v":3.6,"k":"q"},
{"p":"L","g":"CD","v":3.7,"k":"m"},{"p":"L","g":"CD","v":1.35,"k":"q"},{"p":"L","g":"CD","v":4.6,"k":"q"},
{"p":"L","g":"C","v":0.83,"k":"m"},{"p":"L","g":"C","v":0.55,"k":"q"},{"p":"L","g":"C","v":1.5,"k":"q"},
{"p":"L","g":"NEC","v":0.56,"k":"m"},{"p":"L","g":"NEC","v":0.5,"k":"q"},{"p":"L","g":"NEC","v":0.6,"k":"q"},
{"p":"L","g":"EC","v":2.05,"k":"m"},{"p":"L","g":"EC","v":1.45,"k":"q"},{"p":"L","g":"EC","v":2.6,"k":"q"},
{"p":"R","g":"TL","v":2.26,"k":"m"},{"p":"R","g":"TL","v":1.2,"k":"q"},{"p":"R","g":"TL","v":3.3,"k":"q"},
{"p":"R","g":"CL","v":1.36,"k":"m"},{"p":"R","g":"CL","v":1.1,"k":"q"},{"p":"R","g":"CL","v":2.5,"k":"q"},
{"p":"R","g":"ML","v":1.75,"k":"m"},{"p":"R","g":"ML","v":1.2,"k":"q"},{"p":"R","g":"ML","v":2.7,"k":"q"},
{"p":"R","g":"DL","v":2.4,"k":"m"},{"p":"R","g":"DL","v":1.25,"k":"q"},{"p":"R","g":"DL","v":4.5,"k":"q"},
{"p":"R","g":"SC","v":2.65,"k":"m"},{"p":"R","g":"SC","v":1.95,"k":"q"},{"p":"R","g":"SC","v":3.3,"k":"q"},
{"p":"R","g":"CD","v":0.88,"k":"m"},{"p":"R","g":"CD","v":0.58,"k":"q"},{"p":"R","g":"CD","v":1.3,"k":"q"},
{"p":"R","g":"C","v":0.76,"k":"m"},{"p":"R","g":"C","v":0.42,"k":"q"},{"p":"R","g":"C","v":0.9,"k":"q"},
{"p":"R","g":"NEC","v":0.48,"k":"m"},{"p":"R","g":"NEC","v":0.34,"k":"q"},{"p":"R","g":"NEC","v":0.85,"k":"q"},
{"p":"R","g":"EC","v":0.83,"k":"m"},{"p":"R","g":"EC","v":0.72,"k":"q"},{"p":"R","g":"EC","v":0.9,"k":"q"}
],
"brk":[
{"p":"L","a":"TL","b":"NEC","v":195.8,"s":"****","m":"DL","h":0.5},
{"p":"L","a":"TL","b":"C","v":145.6,"s":"***","m":"DL","h":0},
{"p":"L","a":"CL","b":"CD","v":110,"s":"*","m":"DL","h":0},
{"p":"L","a":"DL","b":"NEC","v":80.5,"s":"****","m":"CD","h":0},
{"p":"L","a":"DL","b":"C","v":59.8,"s":"***","m":"SC","h":0.5},
{"p":"L","a":"SC","b":"NEC","v":43.1,"s":"****","m":"CD","h":0.5},
{"p":"L","a":"SC","b":"C","v":33.1,"s":"****","m":"CD","h":0},
{"p":"L","a":"CD","b":"NEC","v":23.8,"s":"****","m":"C","h":0},
{"p":"L","a":"CD","b":"C","v":18.3,"s":"***","m":"CD","h":0.5},
{"p":"R","a":"TL","b":"EC","v":195.8,"s":"****","m":"SC","h":0},
{"p":"R","a":"TL","b":"NEC","v":168,"s":"****","m":"DL","h":0.5},
{"p":"R","a":"TL","b":"C","v":143.9,"s":"****","m":"DL","h":0},
{"p":"R","a":"TL","b":"CD","v":122.9,"s":"***","m":"ML","h":0.5},
{"p":"R","a":"CL","b":"NEC","v":93.3,"s":"***","m":"SC","h":0},
{"p":"R","a":"CL","b":"C","v":81.4,"s":"**","m":"DL","h":0.5},
{"p":"R","a":"ML","b":"NEC","v":68.3,"s":"***","m":"SC","h":0.5},
{"p":"R","a":"ML","b":"C","v":57.6,"s":"***","m":"SC","h":0},
{"p":"R","a":"DL","b":"EC","v":48.3,"s":"**","m":"CD","h":0.5},
{"p":"R","a":"DL","b":"NEC","v":40.3,"s":"****","m":"CD","h":0},
{"p":"R","a":"DL","b":"C","v":34.3,"s":"****","m":"SC","h":0.5},
{"p":"R","a":"DL","b":"CD","v":30.0,"s":"*","m":"SC","h":0},
{"p":"R","a":"SC","b":"EC","v":25.3,"s":"****","m":"C","h":0},
{"p":"R","a":"SC","b":"NEC","v":21.2,"s":"****","m":"CD","h":0.5},
{"p":"R","a":"SC","b":"C","v":17.8,"s":"****","m":"CD","h":0},
{"p":"R","a":"SC","b":"CD","v":14.8,"s":"****","m":"SC","h":0.5}
],
"bh1":[{"a":"CL","b":"SC","v":0.0792},{"a":"NEC","b":"EC","v":0.0792}],
"bh2":[{"a":"TL","b":"DL","v":0.0724},{"a":"C","b":"EC","v":0.0724}],
"bv1":[{"a":"TL","v":0.0868,"v2":0.0724},{"a":"CL","v":0.0868,"v2":0.0792},{"a":"SC","v":0.0868,"v2":0.0792},{"a":"C","v":0.0868,"v2":0.0724},{"a":"NEC","v":0.0868,"v2":0.0792},{"a":"EC","v":0.0868,"v2":0.0792}],
"bv2":[{"a":"DL","v":0.0792,"v2":0.0724},{"a":"EC","v":0.0792,"v2":0.0724}]
},
"hconcat":[
{"width":297,"height":379,
"resolve":{"axis":{"y":"independent"}},
"layer":[
{"data":{"name":"minor"},"mark":{"type":"rule","color":"#1b8a8b","strokeWidth":2.5},"encoding":{"y":{"field":"v","type":"quantitative","axis":{"orient":"left","values":[0.1375,0.15,0.1625,0.175,0.1875,0.2,0.2125,0.225,0.2375,0.275,0.3,0.325,0.35,0.375,0.4,0.425,0.45,0.475,0.55,0.6,0.65,0.7,0.75,0.8,0.85,0.9,0.95,1.1,1.2,1.3,1.4,1.5,1.6,1.7,1.8,1.9,2.2,2.4,2.6,2.8,3.0,3.2,3.4,3.6,3.8,4.4,4.8,5.2,5.6,6.0,6.4,6.8,7.2,7.6,8.8,9.6,10.4,11.2,12,12.8,13.6,14.4,15.2,17.6,19.2,20.8,22.4,24,25.6,27.2,28.8,30.4,35.2,38.4,41.6,44.8,48,51.2,54.4,57.6,60.8],"labels":false,"tickSize":3,"domain":false,"title":null,"grid":false,"tickColor":"#444"}}}},
{"layer":[
{"data":{"name":"vio"},"transform":[{"filter":"datum.p=='L'"},{"fold":["r","l"],"as":["s","w"]}],"mark":{"type":"line","color":"#444","strokeWidth":0.8,"interpolate":"catmull-rom"},
 "encoding":{"x":{"field":"g","type":"nominal"},"xOffset":{"field":"w","type":"quantitative"},"y":{"field":"v","type":"quantitative"},"detail":[{"field":"g"},{"field":"s"}],"order":{"field":"v","type":"quantitative"}}},
{"data":{"name":"pts"},"transform":[{"filter":"datum.p=='L'"}],"mark":{"type":"point","filled":true,"stroke":"#3a3a3a","strokeWidth":0.6,"fillOpacity":0.85,"size":70},
 "encoding":{
  "x":{"field":"g","type":"nominal","scale":{"domain":["TL","CL","ML","DL","SC","CD","C","NEC","EC"],"paddingInner":0,"paddingOuter":0.2},"axis":{"title":null,"ticks":false,"labelPadding":6,"labelAngle":0,"labelAlign":"center","labelFontSize":17}},
  "xOffset":{"field":"j","type":"quantitative","scale":{"domain":[-1,1],"range":[-15.8,47.4],"nice":false,"zero":false}},
  "y":{"field":"v","type":"quantitative","scale":{"type":"log","base":2,"domain":[0.125,64],"nice":false},"axis":{"orient":"left","values":[0.125,0.25,0.5,1,2,4,8,16,32,64],"format":"~g","tickSize":5,"labelPadding":2,"title":["cELISA titer normalized","to healthy nonendemic controls (log₂)"],"titleFontSize":21,"titleFontWeight":"normal","titleColor":"#111","titlePadding":4,"titleLineHeight":24}},
  "fill":{"field":"g","type":"nominal","scale":{"domain":["TL","CL","ML","DL","SC","CD","C","NEC","EC"],"range":["#e0226a","#f7c3d6","#ec62b4","#f6b9d3","#b995e8","#b0b0b0","#64c0ec","#e6f1f5","#8ec3bb"]},"legend":null},
  "shape":{"field":"g","type":"nominal","scale":{"domain":["TL","CL","ML","DL","SC","CD","C","NEC","EC"],"range":["square","circle","circle","circle","circle","circle","circle","circle","circle"]},"legend":null}}},
{"data":{"name":"st"},"transform":[{"filter":"datum.p=='L' && datum.k=='q'"}],"mark":{"type":"tick","color":"#555","thickness":1,"size":20,"orient":"horizontal"},"encoding":{"x":{"field":"g","type":"nominal"},"y":{"field":"v","type":"quantitative"}}},
{"data":{"name":"st"},"transform":[{"filter":"datum.p=='L' && datum.k=='m'"}],"mark":{"type":"tick","color":"#000","thickness":3,"size":18,"orient":"horizontal"},"encoding":{"x":{"field":"g","type":"nominal"},"y":{"field":"v","type":"quantitative"}}},
{"data":{"name":"brk"},"transform":[{"filter":"datum.p=='L'"}],"mark":{"type":"rule","color":"#555","strokeWidth":1},"encoding":{"x":{"field":"a","type":"nominal","bandPosition":0.5},"x2":{"field":"b","bandPosition":0.5},"y":{"field":"v","type":"quantitative"}}},
{"data":{"name":"brk"},"transform":[{"filter":"datum.p=='L'"},{"fold":["a","b"],"as":["e","gg"]}],"mark":{"type":"rule","color":"#555","strokeWidth":1,"y2Offset":6},"encoding":{"x":{"field":"gg","type":"nominal"},"y":{"field":"v","type":"quantitative"},"y2":{"field":"v"}}},
{"data":{"name":"brk"},"transform":[{"filter":"datum.p=='L'"}],"mark":{"type":"text","fontSize":10,"fontWeight":"bold","color":"#222","baseline":"alphabetic","dy":-1},"encoding":{"x":{"field":"m","type":"nominal"},"xOffset":{"field":"h","type":"quantitative"},"y":{"field":"v","type":"quantitative"},"text":{"field":"s"}}},
{"data":{"name":"bh1"},"mark":{"type":"rule","color":"#888","strokeWidth":1},"encoding":{"x":{"field":"a","type":"nominal","bandPosition":0.5},"x2":{"field":"b","bandPosition":0.5},"y":{"field":"v","type":"quantitative"}}},
{"data":{"name":"bh2"},"mark":{"type":"rule","color":"#888","strokeWidth":1},"encoding":{"x":{"field":"a","type":"nominal","bandPosition":0.5},"x2":{"field":"b","bandPosition":0},"y":{"field":"v","type":"quantitative"}}},
{"data":{"name":"bv1"},"mark":{"type":"rule","color":"#888","strokeWidth":1},"encoding":{"x":{"field":"a","type":"nominal","bandPosition":0.5},"y":{"field":"v","type":"quantitative"},"y2":{"field":"v2"}}},
{"data":{"name":"bv2"},"mark":{"type":"rule","color":"#888","strokeWidth":1},"encoding":{"x":{"field":"a","type":"nominal","bandPosition":0},"y":{"field":"v","type":"quantitative"},"y2":{"field":"v2"}}},
{"data":{"values":[{}]},"mark":{"type":"text","fontSize":24,"align":"left","baseline":"middle","dx":-15,"color":"#222"},"encoding":{"x":{"datum":"TL","type":"nominal"},"y":{"datum":37.8,"type":"quantitative"},"text":{"value":"NGP29b"}}}
]}
]},
{"width":297,"height":379,
"resolve":{"axis":{"y":"independent"}},
"layer":[
{"data":{"name":"minor"},"mark":{"type":"rule","color":"#1b8a8b","strokeWidth":2.5},"encoding":{"y":{"field":"v","type":"quantitative","axis":{"orient":"left","values":[0.1375,0.15,0.1625,0.175,0.1875,0.2,0.2125,0.225,0.2375,0.275,0.3,0.325,0.35,0.375,0.4,0.425,0.45,0.475,0.55,0.6,0.65,0.7,0.75,0.8,0.85,0.9,0.95,1.1,1.2,1.3,1.4,1.5,1.6,1.7,1.8,1.9,2.2,2.4,2.6,2.8,3.0,3.2,3.4,3.6,3.8,4.4,4.8,5.2,5.6,6.0,6.4,6.8,7.2,7.6,8.8,9.6,10.4,11.2,12,12.8,13.6,14.4,15.2,17.6,19.2,20.8,22.4,24,25.6,27.2,28.8,30.4,35.2,38.4,41.6,44.8,48,51.2,54.4,57.6,60.8],"labels":false,"tickSize":3,"domain":false,"title":null,"grid":false,"tickColor":"#444"}}}},
{"layer":[
{"data":{"name":"vio"},"transform":[{"filter":"datum.p=='R'"},{"fold":["r","l"],"as":["s","w"]}],"mark":{"type":"line","color":"#444","strokeWidth":0.8,"interpolate":"catmull-rom"},
 "encoding":{"x":{"field":"g","type":"nominal"},"xOffset":{"field":"w","type":"quantitative"},"y":{"field":"v","type":"quantitative"},"detail":[{"field":"g"},{"field":"s"}],"order":{"field":"v","type":"quantitative"}}},
{"data":{"name":"pts"},"transform":[{"filter":"datum.p=='R'"}],"mark":{"type":"point","filled":true,"stroke":"#3a3a3a","strokeWidth":0.6,"fillOpacity":0.85,"size":70},
 "encoding":{
  "x":{"field":"g","type":"nominal","scale":{"domain":["TL","CL","ML","DL","SC","CD","C","NEC","EC"],"paddingInner":0,"paddingOuter":0.2},"axis":{"title":null,"ticks":false,"labelPadding":6,"labelAngle":0,"labelAlign":"center","labelFontSize":17}},
  "xOffset":{"field":"j","type":"quantitative","scale":{"domain":[-1,1],"range":[-15.8,47.4],"nice":false,"zero":false}},
  "y":{"field":"v","type":"quantitative","scale":{"type":"log","base":2,"domain":[0.125,64],"nice":false},"axis":{"orient":"left","values":[0.125,0.25,0.5,1,2,4,8,16,32,64],"format":"~g","tickSize":5,"labelPadding":2,"title":null}},
  "fill":{"field":"g","type":"nominal","scale":{"domain":["TL","CL","ML","DL","SC","CD","C","NEC","EC"],"range":["#e0226a","#f7c3d6","#ec62b4","#f6b9d3","#b995e8","#b0b0b0","#64c0ec","#e6f1f5","#8ec3bb"]},"legend":null},
  "shape":{"field":"g","type":"nominal","scale":{"domain":["TL","CL","ML","DL","SC","CD","C","NEC","EC"],"range":["square","circle","circle","circle","circle","circle","circle","circle","circle"]},"legend":null}}},
{"data":{"name":"st"},"transform":[{"filter":"datum.p=='R' && datum.k=='q'"}],"mark":{"type":"tick","color":"#555","thickness":1,"size":20,"orient":"horizontal"},"encoding":{"x":{"field":"g","type":"nominal"},"y":{"field":"v","type":"quantitative"}}},
{"data":{"name":"st"},"transform":[{"filter":"datum.p=='R' && datum.k=='m'"}],"mark":{"type":"tick","color":"#000","thickness":3,"size":18,"orient":"horizontal"},"encoding":{"x":{"field":"g","type":"nominal"},"y":{"field":"v","type":"quantitative"}}},
{"data":{"name":"brk"},"transform":[{"filter":"datum.p=='R'"}],"mark":{"type":"rule","color":"#555","strokeWidth":1},"encoding":{"x":{"field":"a","type":"nominal","bandPosition":0.5},"x2":{"field":"b","bandPosition":0.5},"y":{"field":"v","type":"quantitative"}}},
{"data":{"name":"brk"},"transform":[{"filter":"datum.p=='R'"},{"fold":["a","b"],"as":["e","gg"]}],"mark":{"type":"rule","color":"#555","strokeWidth":1,"y2Offset":6},"encoding":{"x":{"field":"gg","type":"nominal"},"y":{"field":"v","type":"quantitative"},"y2":{"field":"v"}}},
{"data":{"name":"brk"},"transform":[{"filter":"datum.p=='R'"}],"mark":{"type":"text","fontSize":10,"fontWeight":"bold","color":"#222","baseline":"alphabetic","dy":-1},"encoding":{"x":{"field":"m","type":"nominal"},"xOffset":{"field":"h","type":"quantitative"},"y":{"field":"v","type":"quantitative"},"text":{"field":"s"}}},
{"data":{"name":"bh1"},"mark":{"type":"rule","color":"#888","strokeWidth":1},"encoding":{"x":{"field":"a","type":"nominal","bandPosition":0.5},"x2":{"field":"b","bandPosition":0.5},"y":{"field":"v","type":"quantitative"}}},
{"data":{"name":"bh2"},"mark":{"type":"rule","color":"#888","strokeWidth":1},"encoding":{"x":{"field":"a","type":"nominal","bandPosition":0.5},"x2":{"field":"b","bandPosition":0},"y":{"field":"v","type":"quantitative"}}},
{"data":{"name":"bv1"},"mark":{"type":"rule","color":"#888","strokeWidth":1},"encoding":{"x":{"field":"a","type":"nominal","bandPosition":0.5},"y":{"field":"v","type":"quantitative"},"y2":{"field":"v2"}}},
{"data":{"name":"bv2"},"mark":{"type":"rule","color":"#888","strokeWidth":1},"encoding":{"x":{"field":"a","type":"nominal","bandPosition":0},"y":{"field":"v","type":"quantitative"},"y2":{"field":"v2"}}},
{"data":{"values":[{}]},"mark":{"type":"text","fontSize":24,"align":"left","baseline":"middle","dx":-15,"color":"#222"},"encoding":{"x":{"datum":"TL","type":"nominal"},"y":{"datum":38.5,"type":"quantitative"},"text":{"value":"NGP28b"}}}
]}
]}
]
}
